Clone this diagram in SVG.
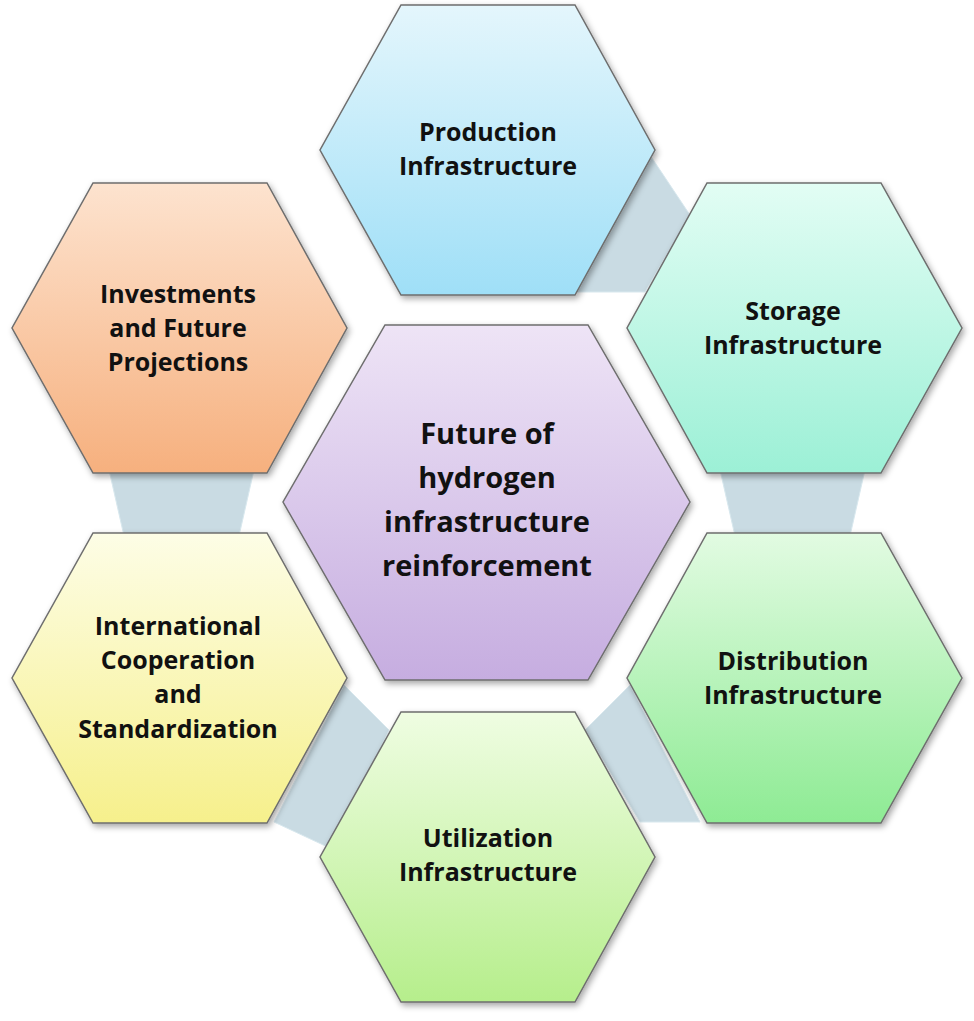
<svg xmlns="http://www.w3.org/2000/svg" width="974" height="1021" viewBox="0 0 974 1021">
<defs>
<linearGradient id="gP" x1="0" y1="0" x2="0" y2="1"><stop offset="0" stop-color="#e4f6fc"/><stop offset="1" stop-color="#9fdff7"/></linearGradient>
<linearGradient id="gS" x1="0" y1="0" x2="0" y2="1"><stop offset="0" stop-color="#e2fdf4"/><stop offset="1" stop-color="#9cf0d6"/></linearGradient>
<linearGradient id="gD" x1="0" y1="0" x2="0" y2="1"><stop offset="0" stop-color="#e2fbe2"/><stop offset="1" stop-color="#8eeb94"/></linearGradient>
<linearGradient id="gU" x1="0" y1="0" x2="0" y2="1"><stop offset="0" stop-color="#effde2"/><stop offset="1" stop-color="#b6ee8c"/></linearGradient>
<linearGradient id="gI" x1="0" y1="0" x2="0" y2="1"><stop offset="0" stop-color="#fdfde6"/><stop offset="1" stop-color="#f6f08c"/></linearGradient>
<linearGradient id="gV" x1="0" y1="0" x2="0" y2="1"><stop offset="0" stop-color="#fde3cf"/><stop offset="1" stop-color="#f6b07e"/></linearGradient>
<linearGradient id="gC" x1="0" y1="0" x2="0" y2="1"><stop offset="0" stop-color="#eee4f6"/><stop offset="1" stop-color="#c6ade0"/></linearGradient>
<filter id="sh" x="-10%" y="-10%" width="120%" height="120%"><feDropShadow dx="2" dy="3" stdDeviation="3" flood-color="#000" flood-opacity="0.35"/></filter>
</defs>
<style>
.hex{stroke:#6e6e6e;stroke-width:1.5;filter:url(#sh)}
.con{fill:#c9dbe3;stroke:#d8e8ee;stroke-width:1}
text{font-family:"Open Sans","Liberation Sans",sans-serif;font-weight:bold;fill:#111;text-anchor:middle}
.t{font-size:25px}
.c{font-size:29px}
</style>
<g id="connectors">
<polygon class="con" points="650,155 690,215 645,292 575,292"/>
<polygon class="con" points="720,470 865,470 850,536 735,536"/>
<polygon class="con" points="630,685 700,822 640,822 585,730"/>
<polygon class="con" points="344,685 274,822 334,850 389,730"/>
<polygon class="con" points="109,470 254,470 239,536 124,536"/>
</g>
<g id="production"><polygon class="hex" fill="url(#gP)" points="401,5 575,5 655,150 575,295 401,295 320,150"/>
<text class="t" x="488" y="141">Production</text><text class="t" x="488" y="175">Infrastructure</text></g>
<g id="storage"><polygon class="hex" fill="url(#gS)" points="707,183 881,183 962,328 881,473 707,473 627,328"/>
<text class="t" x="793" y="320">Storage</text><text class="t" x="793" y="354">Infrastructure</text></g>
<g id="distribution"><polygon class="hex" fill="url(#gD)" points="707,533 881,533 962,678 881,823 707,823 627,678"/>
<text class="t" x="793" y="670">Distribution</text><text class="t" x="793" y="704">Infrastructure</text></g>
<g id="utilization"><polygon class="hex" fill="url(#gU)" points="401,712 575,712 655,857 575,1002 401,1002 320,857"/>
<text class="t" x="488" y="847">Utilization</text><text class="t" x="488" y="881">Infrastructure</text></g>
<g id="international"><polygon class="hex" fill="url(#gI)" points="93,533 267,533 347,678 267,823 93,823 12,678"/>
<text class="t" x="178" y="635">International</text><text class="t" x="178" y="669">Cooperation</text><text class="t" x="178" y="703">and</text><text class="t" x="178" y="738">Standardization</text></g>
<g id="investments"><polygon class="hex" fill="url(#gV)" points="93,183 267,183 347,328 267,473 93,473 12,328"/>
<text class="t" x="178" y="303">Investments</text><text class="t" x="178" y="337">and Future</text><text class="t" x="178" y="371">Projections</text></g>
<g id="center"><polygon class="hex" fill="url(#gC)" points="385,325 588,325 690,502 588,680 385,680 283,502"/>
<text class="c" x="487" y="444">Future of</text><text class="c" x="487" y="488">hydrogen</text><text class="c" x="487" y="532">infrastructure</text><text class="c" x="487" y="576">reinforcement</text></g>
</svg>
